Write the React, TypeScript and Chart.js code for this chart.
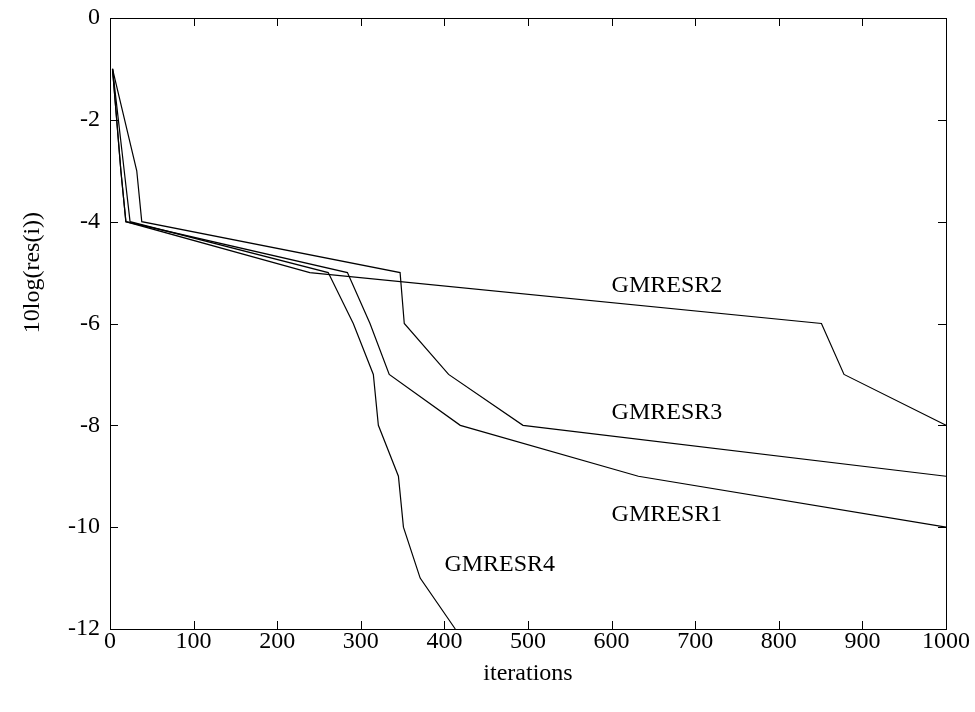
import React, { useEffect, useRef } from "react";
import { Chart, registerables } from "chart.js";

Chart.register(...registerables);

// Series data (iterations, 10log(res(i)))
const gmresr1X = [3, 13, 19, 284, 311, 334, 419, 632, 1000];
const gmresr1Y = [-1, -3, -4, -5, -6, -7, -8, -9, -10];

const gmresr2X = [3, 13, 19, 239, 851, 878, 1000];
const gmresr2Y = [-1, -3, -4, -5, -6, -7, -8];

const gmresr3X = [3, 32, 38, 347, 352, 405, 494, 1000];
const gmresr3Y = [-1, -3, -4, -5, -6, -7, -8, -9];

const gmresr4X = [3, 17, 24, 261, 291, 315, 321, 345, 351, 371, 413];
const gmresr4Y = [-1, -3, -4, -5, -6, -7, -8, -9, -10, -11, -12];

// Inline curve labels (data coordinates)
const labelTexts = ["GMRESR1", "GMRESR2", "GMRESR3", "GMRESR4"];
const labelXs = [600, 600, 600, 400];
const labelYs = [-9.76, -5.26, -7.76, -10.74];

// Axis ticks
const xTicks = [0, 100, 200, 300, 400, 500, 600, 700, 800, 900, 1000];
const yTicks = [0, -2, -4, -6, -8, -10, -12];

const xTitle = "iterations";
const yTitle = "10log(res(i))";

const FONT = "'Liberation Serif', 'Times New Roman', serif";
const FONT_SIZE = 24;

function toPoints(xs: number[], ys: number[]) {
  return xs.map((x, i) => ({ x, y: ys[i] }));
}

const framePlugin = {
  id: "frame",
  afterDraw(chart: any) {
    const { ctx, chartArea } = chart;
    const xs = chart.scales.x;
    const ys = chart.scales.y;
    const { left, right, top, bottom } = chartArea;
    ctx.save();
    ctx.strokeStyle = "#000";
    ctx.lineWidth = 1;
    ctx.strokeRect(Math.round(left) + 0.5, Math.round(top) + 0.5, Math.round(right - left), Math.round(bottom - top));
    const tl = 8;
    ctx.beginPath();
    xTicks.forEach((v) => {
      const px = Math.round(xs.getPixelForValue(v)) + 0.5;
      ctx.moveTo(px, bottom);
      ctx.lineTo(px, bottom - tl);
      ctx.moveTo(px, top);
      ctx.lineTo(px, top + tl);
    });
    yTicks.forEach((v) => {
      const py = Math.round(ys.getPixelForValue(v)) + 0.5;
      ctx.moveTo(left, py);
      ctx.lineTo(left + tl, py);
      ctx.moveTo(right, py);
      ctx.lineTo(right - tl, py);
    });
    ctx.stroke();

    ctx.fillStyle = "#000";
    ctx.font = `${FONT_SIZE}px ${FONT}`;

    // tick labels
    ctx.textAlign = "center";
    ctx.textBaseline = "middle";
    xTicks.forEach((v) => {
      ctx.fillText(String(v), xs.getPixelForValue(v), bottom + 13);
    });
    ctx.textAlign = "right";
    yTicks.forEach((v) => {
      ctx.fillText(String(v), left - 10, ys.getPixelForValue(v));
    });

    // curve labels
    ctx.textAlign = "left";
    labelTexts.forEach((t, i) => {
      ctx.fillText(t, xs.getPixelForValue(labelXs[i]), ys.getPixelForValue(labelYs[i]));
    });

    // axis titles
    ctx.textAlign = "center";
    ctx.fillText(xTitle, (left + right) / 2, 674);
    ctx.save();
    ctx.translate(33, ys.getPixelForValue(-5));
    ctx.rotate(-Math.PI / 2);
    ctx.fillText(yTitle, 0, 0);
    ctx.restore();
    ctx.restore();
  },
};

export default function App() {
  const ref = useRef<HTMLCanvasElement | null>(null);
  useEffect(() => {
    if (!ref.current) return;
    const mk = (xs: number[], ys: number[], name: string) => ({
      label: name,
      data: toPoints(xs, ys),
      showLine: true,
      borderColor: "#000",
      backgroundColor: "#000",
      borderWidth: 1.2,
      pointRadius: 0,
      tension: 0,
      clip: 2,
    });
    const chart = new Chart(ref.current, {
      type: "scatter",
      data: {
        datasets: [
          mk(gmresr1X, gmresr1Y, labelTexts[0]),
          mk(gmresr2X, gmresr2Y, labelTexts[1]),
          mk(gmresr3X, gmresr3Y, labelTexts[2]),
          mk(gmresr4X, gmresr4Y, labelTexts[3]),
        ],
      },
      options: {
        animation: false,
        responsive: false,
        maintainAspectRatio: false,
        layout: { padding: { top: 18, right: 29, left: 0, bottom: 0 } },
        plugins: { legend: { display: false }, tooltip: { enabled: false } },
        scales: {
          x: {
            type: "linear",
            min: 0,
            max: 1000,
            afterFit: (s: any) => {
              s.height = 83;
            },
            ticks: { display: false },
            grid: { display: false, drawTicks: false },
            border: { display: false },
          },
          y: {
            type: "linear",
            min: -12,
            max: 0,
            afterFit: (s: any) => {
              s.width = 110;
            },
            ticks: { display: false },
            grid: { display: false, drawTicks: false },
            border: { display: false },
          },
        },
      },
      plugins: [framePlugin],
    });
    return () => chart.destroy();
  }, []);
  return (
    <div style={{ position: "absolute", left: 0, top: 0, width: 975, height: 712, background: "#fff" }}>
      <canvas ref={ref} width={975} height={712} style={{ width: 975, height: 712 }} />
    </div>
  );
}
